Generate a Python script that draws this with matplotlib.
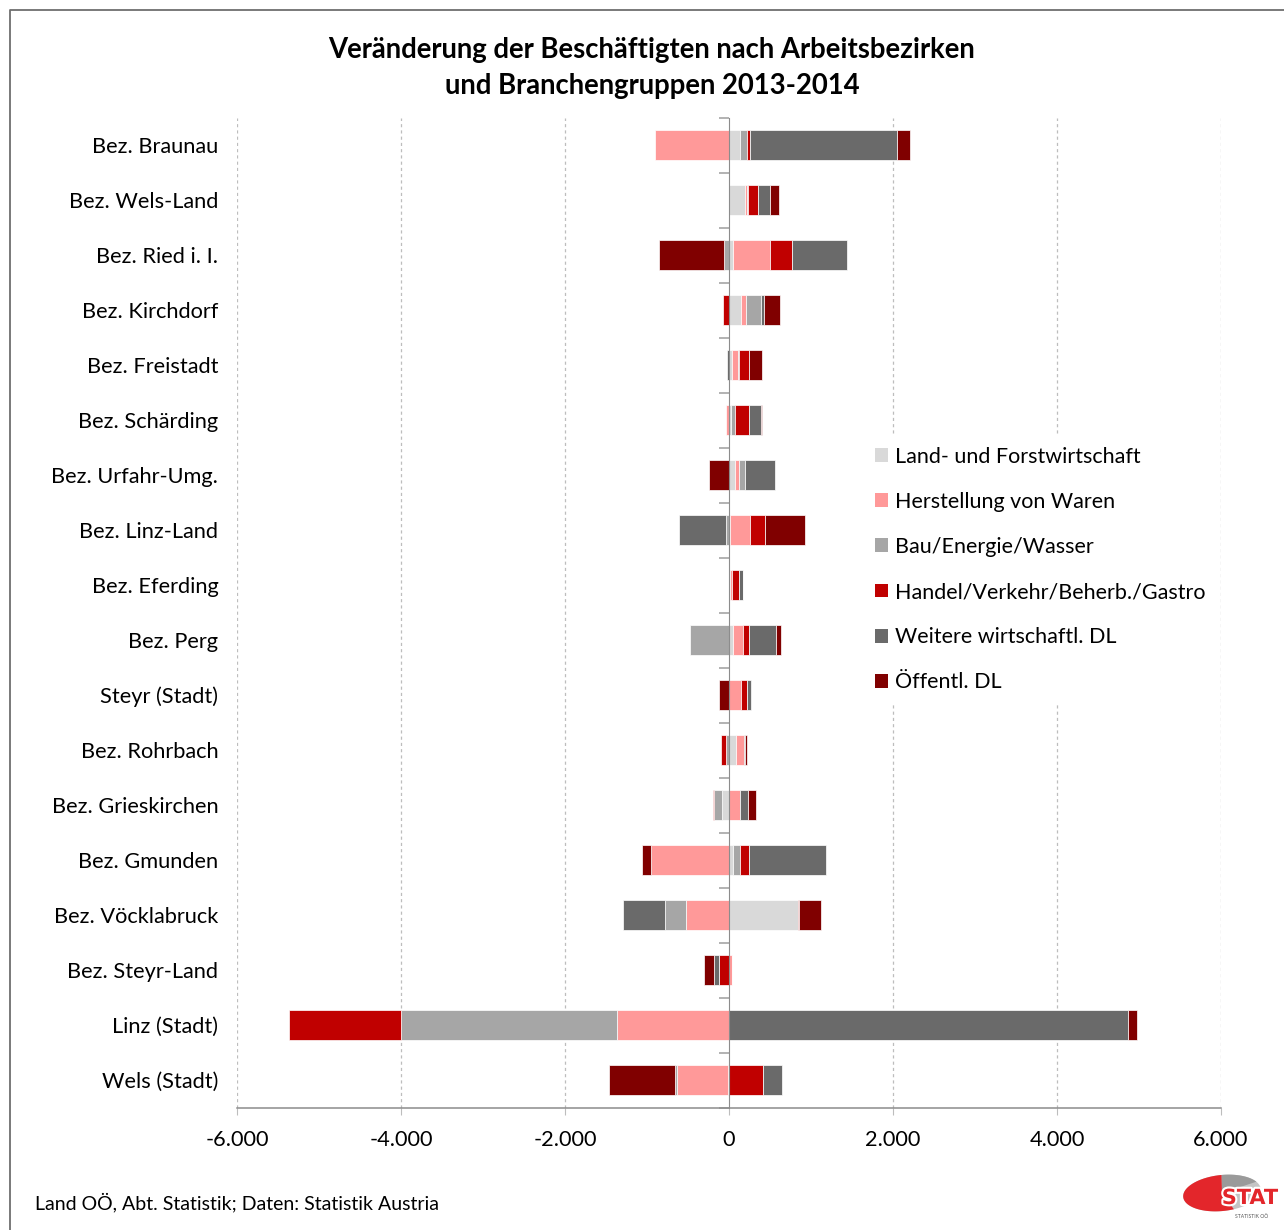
import numpy as np
import matplotlib
matplotlib.use("Agg")
import matplotlib.pyplot as plt
from matplotlib.patches import Patch, Polygon
from matplotlib.lines import Line2D
import matplotlib.patheffects as pe

plt.rcParams['font.family'] = ['Lato', 'DejaVu Sans']

# Districts, top to bottom
regions = ["Bez. Braunau", "Bez. Wels-Land", "Bez. Ried i. I.", "Bez. Kirchdorf",
           "Bez. Freistadt", "Bez. Schärding", "Bez. Urfahr-Umg.", "Bez. Linz-Land",
           "Bez. Eferding", "Bez. Perg", "Steyr (Stadt)", "Bez. Rohrbach",
           "Bez. Grieskirchen", "Bez. Gmunden", "Bez. Vöcklabruck", "Bez. Steyr-Land",
           "Linz (Stadt)", "Wels (Stadt)"]

# Change in employees 2013-2014 per sector group
land    = [140, 199,   45, 142,  40,  30,   69,   10, 10,   45,    0,  85, -89,   45,  841,    0,     0,  -10]
herst   = [-900, 20,  455,  69,  73, -41,   53,  240, 25,  126,  142,  98, 134, -955, -528,   37, -1366, -630]
bau     = [77,   15,  -57, 175,  12,  40,   77,  -41,  0, -472,    0, -41, -89,   89, -256,    0, -2634,  -20]
handel  = [37,  114,  264, -73, 122, 175,    0,  187, 85,   69,   77, -53, -20,  106,   16, -126, -1366,  420]
weitere = [1789, 150, 671,  45, -24, 150,  362, -569, 45,  337,   53,  12, 102,  939, -512,  -57,  4866,  231]
oeff    = [167, 106, -797, 191, 159,   5, -244,  484,  0,   61, -122,  30,  89, -106,  264, -118,   110, -798]

series_names = ["Land- und Forstwirtschaft", "Herstellung von Waren", "Bau/Energie/Wasser",
                "Handel/Verkehr/Beherb./Gastro", "Weitere wirtschaftl. DL", "Öffentl. DL"]
series_vals = [land, herst, bau, handel, weitere, oeff]
colors = ["#D9D9D9", "#FF9999", "#A6A6A6", "#C00000", "#6A6A6A", "#800000"]

x_ticks = [-6000, -4000, -2000, 0, 2000, 4000, 6000]
x_ticklabels = ["-6.000", "-4.000", "-2.000", "0", "2.000", "4.000", "6.000"]

W, H = 1284, 1230
fig = plt.figure(figsize=(W / 100, H / 100), dpi=100)
fig.patch.set_facecolor("white")

ax = fig.add_axes([237 / W, 1 - 1107.5 / H, (1221 - 237) / W, (1107.5 - 117.5) / H])

y = np.arange(len(regions))
pos_base = np.zeros(len(regions))
neg_base = np.zeros(len(regions))
for name, vals, col in zip(series_names, series_vals, colors):
    v = np.array(vals, dtype=float)
    left = np.where(v >= 0, pos_base, neg_base)
    ax.barh(y, v, left=left, height=0.55, color=col, edgecolor="white",
            linewidth=0.5, zorder=3, label=name)
    pos_base += np.where(v > 0, v, 0)
    neg_base += np.where(v < 0, v, 0)

ax.set_xlim(-6000, 6000)
ax.set_ylim(len(regions) - 0.5, -0.5)

# gridlines
for xv in x_ticks:
    if xv != 0:
        ax.axvline(xv, color="#BDBDBD", linestyle=(0, (2.5, 2.5)), linewidth=0.9, zorder=1)

# spines
for s in ["top", "right"]:
    ax.spines[s].set_visible(False)
ax.spines["left"].set_position(("data", 0))
ax.spines["left"].set_color("#8C8C8C")
ax.spines["left"].set_zorder(4)
ax.spines["bottom"].set_color("#8C8C8C")
ax.spines["bottom"].set_linewidth(1.1)

ax.set_xticks(x_ticks)
ax.set_xticklabels(x_ticklabels, fontsize=15.7)
ax.tick_params(axis="x", length=5, color="#BDBDBD", pad=11)

# category boundaries as ticks on the zero axis
ax.set_yticks(np.arange(len(regions) + 1) - 0.5, minor=True)
ax.set_yticks([])
ax.tick_params(axis="y", which="minor", length=7, color="#A6A6A6", width=1.2)

for yi, name in zip(y, regions):
    ax.text(-0.019, yi, name, transform=ax.get_yaxis_transform(), ha="right",
            va="center_baseline", fontsize=15.7)

handles = [Patch(facecolor=c, edgecolor="none") for c in colors]
leg = fig.legend(handles, series_names, loc="upper left",
                 bbox_to_anchor=(853 / W, 1 - 425 / H), fontsize=15.5,
                 frameon=True, handlelength=0.62, handleheight=0.62,
                 handletextpad=0.32, labelspacing=1.17, borderpad=0.5)
leg.get_frame().set_facecolor("white")
leg.get_frame().set_edgecolor("white")
leg.get_frame().set_alpha(1)
leg.set_zorder(10)

fig.text(652 / W, 1 - 50 / H, "Veränderung der Beschäftigten nach Arbeitsbezirken",
         ha="center", va="center", fontsize=19.8, fontweight="bold")
fig.text(652 / W, 1 - 86 / H, "und Branchengruppen 2013-2014",
         ha="center", va="center", fontsize=19.8, fontweight="bold")

fig.text(35 / W, 1 - 1202 / H, "Land OÖ, Abt. Statistik; Daten: Statistik Austria",
         ha="left", va="center", fontsize=14)

# outer frame
fig.add_artist(Line2D([10 / W, 10 / W, 1.0], [0.0, 1 - 10 / H, 1 - 10 / H],
                      transform=fig.transFigure, color="#6E6E6E", linewidth=1.3))

# STAT logo (pixel-like coordinates, y downwards)
lx0, ly0, lw, lh = 1178, 1166, 106, 60
lax = fig.add_axes([lx0 / W, 1 - (ly0 + lh) / H, lw / W, lh / H])
lax.set_xlim(0, lw)
lax.set_ylim(lh, 0)
lax.axis("off")


def ellipse_pts(t0, t1, cx=44, cy=27, a=39, b=18, rot=-6, n=80):
    t = np.radians(np.linspace(t0, t1, n))
    r = np.radians(rot)
    xe, ye = a * np.cos(t), -b * np.sin(t)
    return np.column_stack([cx + xe * np.cos(r) - ye * np.sin(r),
                            cy + xe * np.sin(r) + ye * np.cos(r)])


center = np.array([[44, 27]])
lax.add_patch(Polygon(ellipse_pts(0, 360), closed=True, facecolor="#C4C4C4", edgecolor="none"))
lax.add_patch(Polygon(np.vstack([center, ellipse_pts(25, 88)]), closed=True,
                      facecolor="#9A9A9A", edgecolor="none"))
lax.add_patch(Polygon(np.vstack([center, ellipse_pts(88, 285)]), closed=True,
                      facecolor="#E3262B", edgecolor="none"))
st = lax.text(72, 32, "STAT", ha="center", va="center", fontsize=15, fontweight="bold",
              color="#E3262B", family="DejaVu Sans")
st.set_path_effects([pe.withStroke(linewidth=3, foreground="white")])
lax.text(74, 51, "STATISTIK OÖ", ha="center", va="center", fontsize=3.6, color="#555555")

fig.savefig("out.png", dpi=100, facecolor="white")
